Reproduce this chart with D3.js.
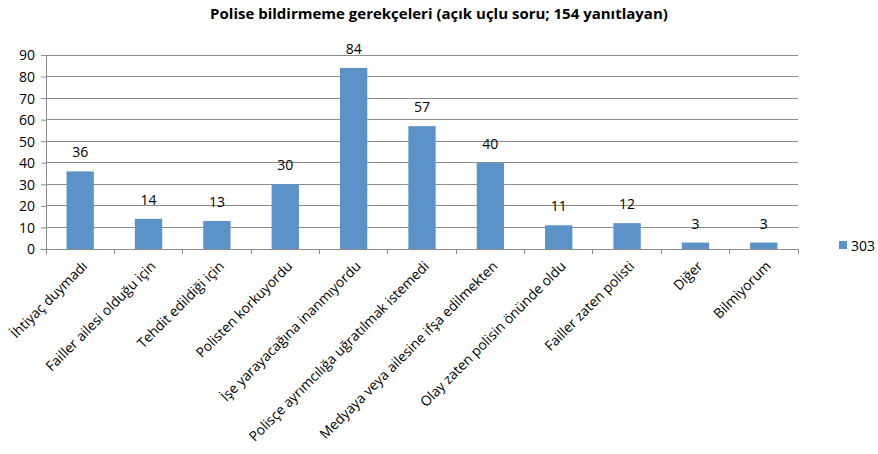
<!DOCTYPE html>
<html>
<head>
<meta charset="utf-8">
<script src="https://cdn.jsdelivr.net/npm/d3@7"></script>
<style>
  body { margin: 0; background: #fff; }
  svg text { font-family: "Open Sans", "Liberation Sans", sans-serif; fill: #000; }
</style>
</head>
<body>
<svg id="chart" width="878" height="454"></svg>
<script>
const title = "Polise bildirmeme gerekçeleri (açık uçlu soru; 154 yanıtlayan)";
const categories = [
  "İhtiyaç duymadı",
  "Failler ailesi olduğu için",
  "Tehdit edildiği için",
  "Polisten korkuyordu",
  "İşe yarayacağına inanmıyordu",
  "Polisçe ayrımcılığa uğratılmak istemedi",
  "Medyaya veya ailesine ifşa edilmekten",
  "Olay zaten polisin önünde oldu",
  "Failler zaten polisti",
  "Diğer",
  "Bilmiyorum"
];
const values = [36, 14, 13, 30, 84, 57, 40, 11, 12, 3, 3];
const yTicks = [0, 10, 20, 30, 40, 50, 60, 70, 80, 90];
const seriesName = "303";

const svg = d3.select("#chart");
const m = { left: 46, right: 80, top: 55, bottom: 205 };
const W = 878, H = 454;
const x0 = m.left, x1 = W - m.right, y0 = H - m.bottom, y1 = m.top;
const barColor = "#5b93c9";

const x = d3.scaleBand().domain(categories).range([x0, x1]).paddingInner(0.6).paddingOuter(0.3);
const y = d3.scaleLinear().domain([0, 90]).range([y0, y1]);

// title
svg.append("text")
  .attr("x", 439).attr("y", 19)
  .attr("text-anchor", "middle")
  .style("font-size", "15px").style("font-weight", "bold")
  .text(title);

// gridlines
svg.append("g").selectAll("line").data(yTicks).join("line")
  .attr("x1", x0).attr("x2", x1)
  .attr("y1", d => y(d)).attr("y2", d => y(d))
  .attr("stroke", "#8c8c8c").attr("stroke-width", 1)
  .attr("shape-rendering", "crispEdges");

// y axis
const yAxis = svg.append("g").attr("transform", `translate(${x0},0)`)
  .call(d3.axisLeft(y).tickValues(yTicks).tickSize(5).tickPadding(6));
yAxis.select(".domain").attr("stroke", "#8c8c8c");
yAxis.selectAll(".tick line").attr("stroke", "#8c8c8c");
yAxis.selectAll("text").style("font-size", "14px").attr("dy", "0.35em");

// x axis with ticks at band boundaries
const bounds = categories.map(c => x(c) - x.step() * x.paddingInner() / 2).concat([x1]);
bounds[0] = x0;
svg.append("line").attr("x1", x0).attr("x2", x1).attr("y1", y0).attr("y2", y0)
  .attr("stroke", "#8c8c8c").attr("shape-rendering", "crispEdges");
svg.append("g").selectAll("line").data(bounds).join("line")
  .attr("x1", d => d).attr("x2", d => d)
  .attr("y1", y0).attr("y2", y0 + 5)
  .attr("stroke", "#8c8c8c").attr("shape-rendering", "crispEdges");

// bars
svg.append("g").selectAll("rect").data(values).join("rect")
  .attr("x", (d, i) => x(categories[i]))
  .attr("width", x.bandwidth())
  .attr("y", d => y(d))
  .attr("height", d => y0 - y(d))
  .attr("fill", barColor);

// value labels
svg.append("g").selectAll("text").data(values).join("text")
  .attr("x", (d, i) => x(categories[i]) + x.bandwidth() / 2)
  .attr("y", d => y(d) - 14)
  .attr("text-anchor", "middle")
  .style("font-size", "14px")
  .text(d => d);

// category labels, rotated
svg.append("g").selectAll("text").data(categories).join("text")
  .attr("text-anchor", "end")
  .attr("transform", c => `translate(${x(c) + x.bandwidth() / 2 + 8},${y0 + 18}) rotate(-45)`)
  .style("font-size", "13.8px")
  .text(c => c);

// legend
svg.append("rect").attr("x", 839).attr("y", 241).attr("width", 8).attr("height", 8).attr("fill", barColor);
svg.append("text").attr("x", 851).attr("y", 250).attr("dy", "0.1em")
  .style("font-size", "14px").text(seriesName);
</script>
</body>
</html>
